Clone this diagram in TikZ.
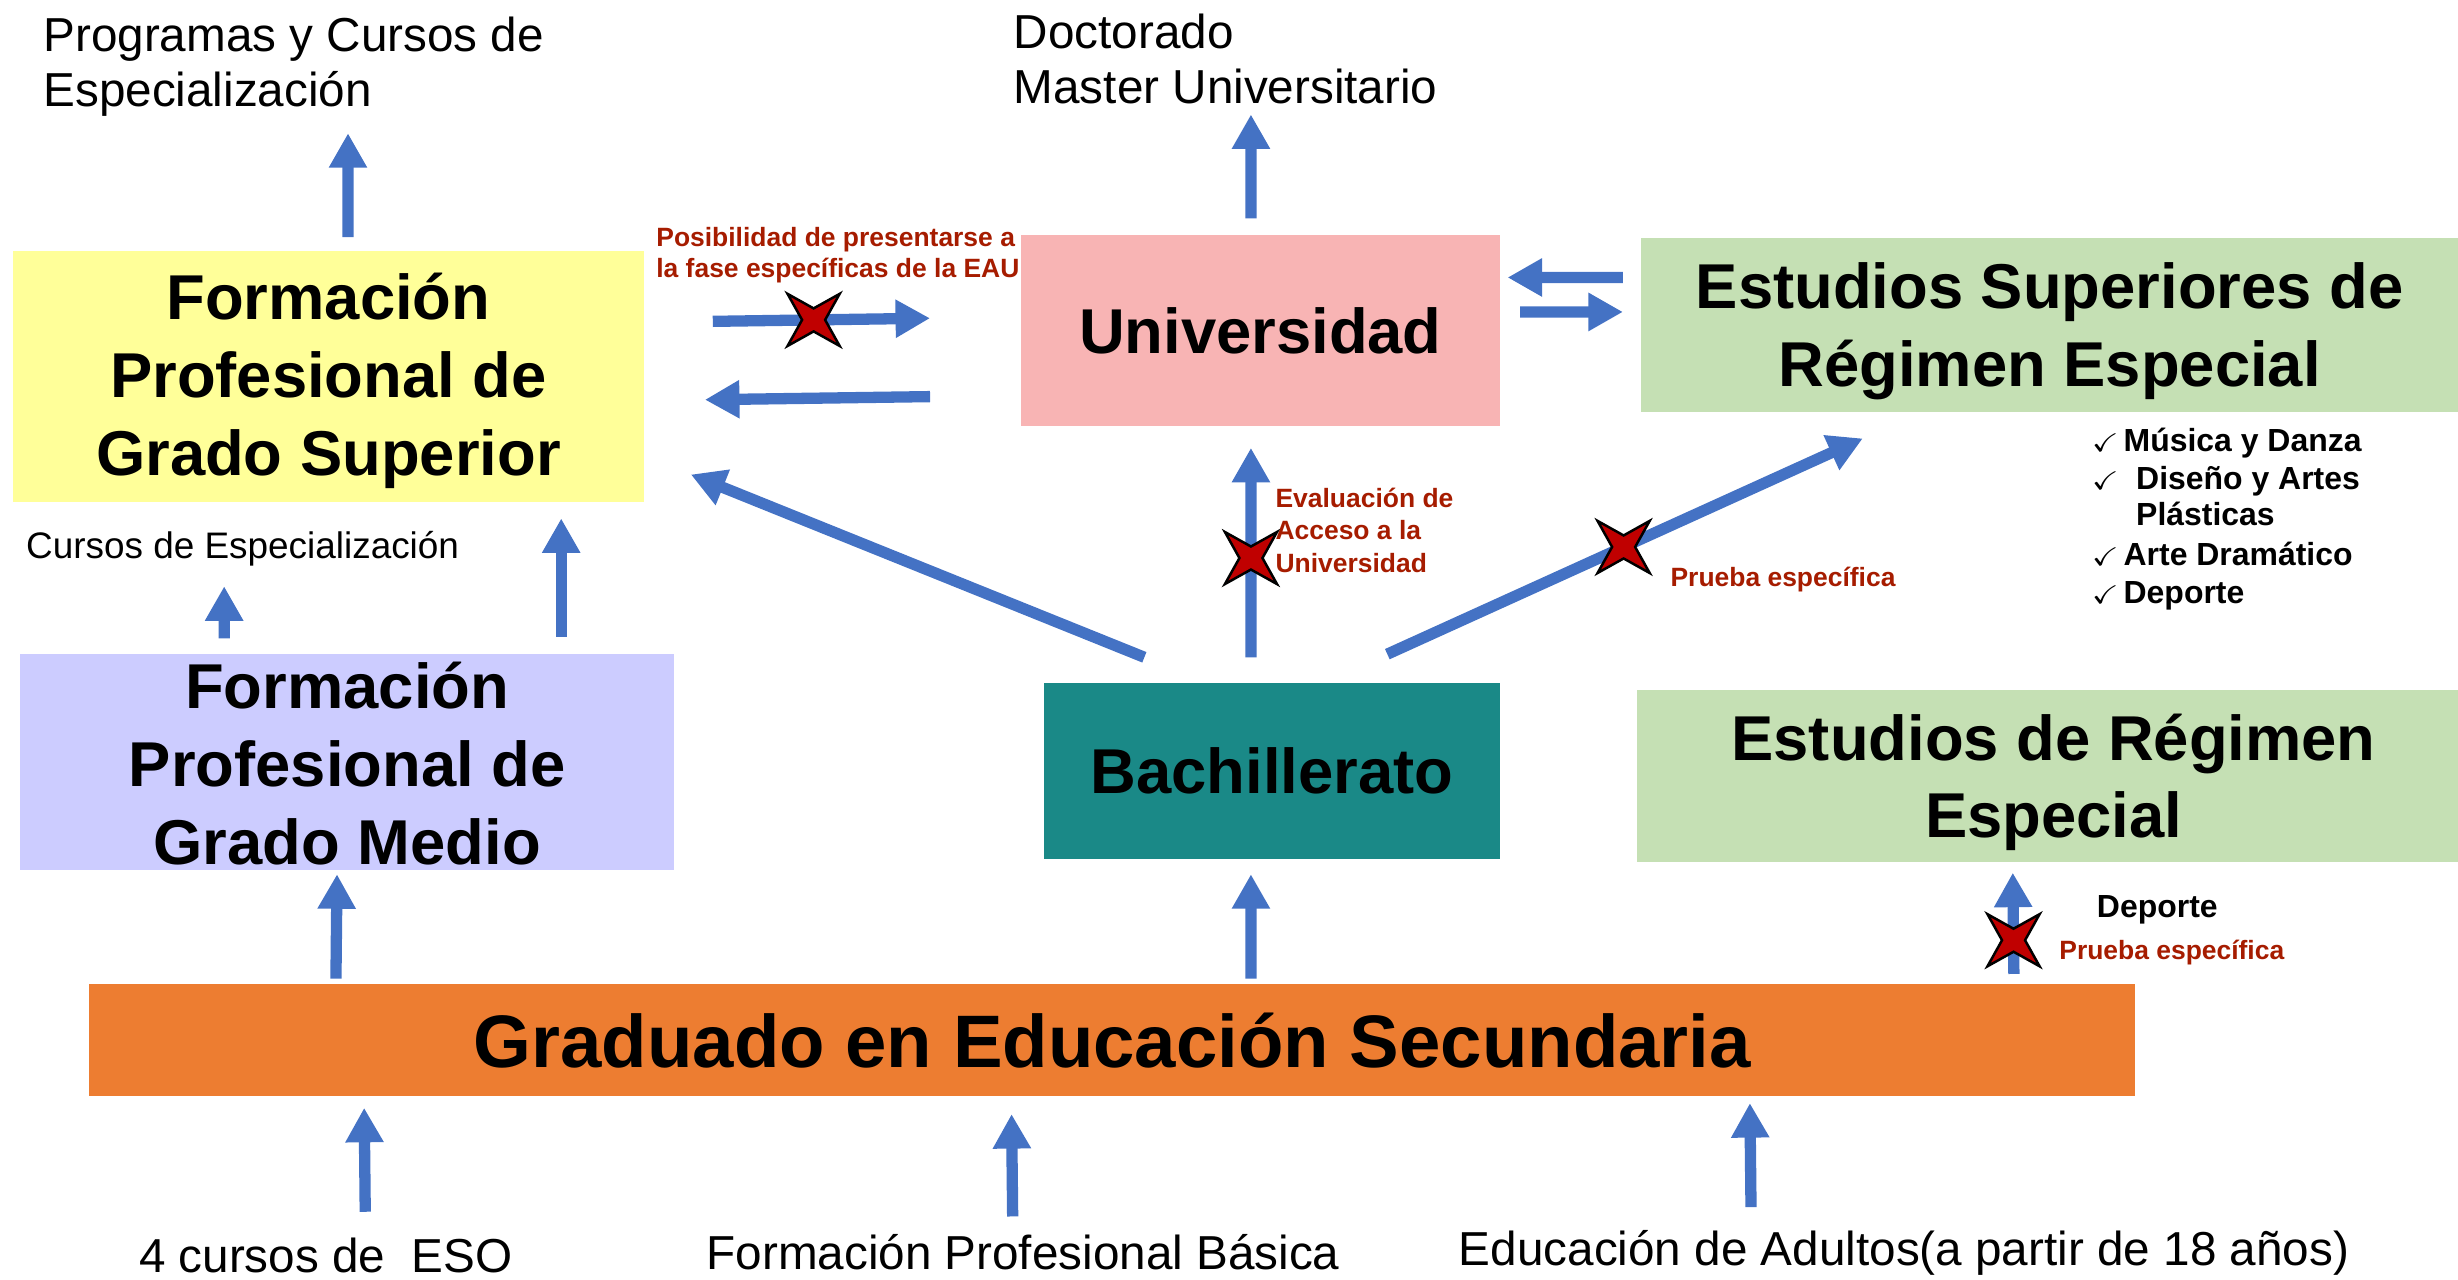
\documentclass[tikz,border=0pt]{standalone}
\usepackage{amssymb}
\usepackage{fontspec}
\setmainfont{Liberation Sans}
\usetikzlibrary{arrows.meta,shapes.geometric}
\definecolor{box_yellow}{RGB}{255,255,153}
\definecolor{box_pink}{RGB}{248,180,180}
\definecolor{box_green}{RGB}{197,224,180}
\definecolor{box_lilac}{RGB}{204,204,255}
\definecolor{box_teal}{RGB}{26,137,135}
\definecolor{box_orange}{RGB}{237,125,49}
\definecolor{arrow_blue}{RGB}{68,114,196}
\definecolor{text_red}{RGB}{166,28,0}
\definecolor{cross_red}{RGB}{192,0,0}
\newcommand{\chk}{\makebox[2.1mm][l]{\fontsize{4.6}{5}\selectfont$\checkmark$}}

\begin{document}
\begin{tikzpicture}[x=0.1mm,y=-0.1mm]
    \tikzstyle{caja}=[rectangle, inner sep=0pt, align=center, text=black, font=\fontsize{11.5}{14.1}\selectfont\bfseries]
    \tikzstyle{textocaja}=[inner sep=0pt, align=center, text=black, font=\fontsize{11.5}{14.1}\selectfont\bfseries]
    \tikzstyle{flecha}=[-{Triangle[width=2.3mm,length=2.2mm]}, draw=arrow_blue, line width=0.72mm]
    \tikzstyle{etiqueta}=[inner sep=0pt, anchor=base west, font=\fontsize{8.65}{10}\selectfont]
    \tikzstyle{nota}=[inner sep=0pt, anchor=base west, text=text_red, font=\fontsize{4.8}{5.8}\selectfont\bfseries]
    \tikzstyle{lista}=[inner sep=0pt, anchor=base west, font=\fontsize{5.8}{6.8}\selectfont\bfseries]
    \tikzstyle{cruz}=[star, star points=4, star point ratio=3.2, shape border rotate=45, draw=black, line width=0.45pt, fill=cross_red, minimum size=4.7mm, inner sep=0pt]

    \useasboundingbox (0,0) rectangle (1568,816);

    % cajas
    \node[caja, fill=box_yellow, minimum width=40.3mm, minimum height=16mm]   (fpgs) at (209.5,240)  {};
    \node[caja, fill=box_pink, minimum width=30.6mm, minimum height=12.2mm]   (univ) at (804,211)    {Universidad};
    \node[caja, fill=box_green, minimum width=52.1mm, minimum height=11.1mm]  (esre) at (1307.5,207.5) {};
    \node[caja, fill=box_lilac, minimum width=41.7mm, minimum height=13.8mm]  (fpgm) at (221.5,486)  {};
    \node[caja, fill=box_teal, minimum width=29.1mm, minimum height=11.2mm]   (bach) at (811.5,492)  {Bachillerato};
    \node[caja, fill=box_green, minimum width=52.4mm, minimum height=11mm]    (ere)  at (1306,495)   {};
    \node[caja, fill=box_orange, minimum width=130.5mm, minimum height=7.1mm, font=\fontsize{13.5}{16}\selectfont\bfseries] (ges) at (709.5,663.5) {Graduado en Educación Secundaria};

    \node[textocaja] (fpgs-t) at ([yshift=-0.3mm]fpgs.center) {Formación\\Profesional de\\Grado Superior};
    \node[textocaja] (esre-t) at ([yshift=-0.4mm]esre.center) {Estudios Superiores de\\Régimen Especial};
    \node[textocaja] (fpgm-t) at ([yshift=-0.1mm]fpgm.center) {Formación\\Profesional de\\Grado Medio};
    \node[textocaja] (ere-t)  at ([xshift=0.4mm,yshift=-0.4mm]ere.center) {Estudios de Régimen\\Especial};

    % textos
    \node[etiqueta] (prog1) at (27,33)  {Programas y Cursos de};
    \node[etiqueta] (prog2) at (27,68)  {Especialización};
    \node[etiqueta] (doct1) at (646,31) {Doctorado};
    \node[etiqueta] (doct2) at (646,66) {Master Universitario};
    \node[etiqueta, font=\fontsize{6.7}{8}\selectfont] (cursos) at (16,356) {Cursos de Especialización};
    \node[etiqueta] (eso)     at (88,812)  {4 cursos de \ ESO};
    \node[etiqueta] (fpb)     at (450,810) {Formación Profesional Básica};
    \node[etiqueta] (adultos) at (930,807) {Educación de Adultos(a partir de 18 años)};

    \node[nota] (posib1) at (418,157)  {Posibilidad de presentarse a};
    \node[nota] (posib2) at (418,177)  {la fase específicas de la EAU};
    \node[nota] (eval1)  at (813,324)  {Evaluación de};
    \node[nota] (eval2)  at (813,344)  {Acceso a la};
    \node[nota] (eval3)  at (813,365)  {Universidad};
    \node[nota] (prueba1) at (1065,374) {Prueba específica};
    \node[nota] (prueba2) at (1313,612) {Prueba específica};
    \node[lista] (deporte) at (1337,585) {Deporte};

    \node[lista] (chk1) at (1333,288) {\chk Música y Danza};
    \node[lista] (chk2) at (1333,312) {\chk\hspace{0.8mm}Diseño y Artes};
    \node[lista] (chk3) at (1362,335) {Plásticas};
    \node[lista] (chk4) at (1333,361) {\chk Arte Dramático};
    \node[lista] (chk5) at (1333,385) {\chk Deporte};

    % flechas
    \draw[flecha] ([xshift=1.25mm,yshift=0.8mm]fpgs.north) -- ([xshift=19.5mm,yshift=-1.7mm]prog2.base west);
    \draw[flecha] ([xshift=-0.6mm,yshift=1mm]univ.north) -- ([xshift=15.2mm,yshift=-0.7mm]doct2.base west);
    \draw[flecha] ([xshift=4.3mm,yshift=3.5mm]fpgs.east) -- node[cruz, pos=0.464] (x1) {} ([xshift=-5.7mm,yshift=0.8mm]univ.west);
    \draw[flecha] ([xshift=-5.7mm,yshift=-4.2mm]univ.west) -- ([xshift=3.8mm,yshift=-1.5mm]fpgs.east);
    \draw[flecha] ([xshift=-1.1mm,yshift=3.05mm]esre.west) -- ([xshift=0.4mm,yshift=3.4mm]univ.east);
    \draw[flecha] ([xshift=1.2mm,yshift=1.2mm]univ.east) -- ([xshift=-1.1mm,yshift=0.85mm]esre.west);
    \draw[flecha] ([xshift=-8.15mm,yshift=1.6mm]bach.north) -- ([xshift=2.9mm,yshift=1.8mm]fpgs.south east);
    \draw[flecha] ([xshift=-1.35mm,yshift=1.6mm]bach.north) -- node[cruz, pos=0.474] (x2) {} ([xshift=-0.6mm,yshift=-1.3mm]univ.south);
    \draw[flecha] ([xshift=7.35mm,yshift=1.8mm]bach.north) -- node[cruz, pos=0.497] (x3) {} ([xshift=14.2mm,yshift=-1.6mm]esre.south west);
    \draw[flecha] ([xshift=-7.85mm,yshift=0.9mm]fpgm.north) -- ([xshift=12.7mm,yshift=-1.8mm]cursos.base west);
    \draw[flecha] ([xshift=13.65mm,yshift=1mm]fpgm.north) -- ([xshift=14.85mm,yshift=-1mm]fpgs.south);
    \draw[flecha] ([xshift=15.8mm,yshift=0.3mm]ges.north west) -- ([xshift=-0.65mm,yshift=-0.2mm]fpgm.south);
    \draw[flecha] ([xshift=8.85mm,yshift=0.3mm]ges.north) -- ([xshift=-1.35mm,yshift=-0.9mm]bach.south);
    \draw[flecha] ([xshift=-7.8mm,yshift=0.6mm]ges.north east) -- node[cruz, pos=0.333] (x4) {} ([xshift=-2.2mm,yshift=-0.6mm]ere.south);
    \draw[flecha] ([xshift=14.5mm,yshift=3.9mm]eso.base west) -- ([xshift=17.6mm,yshift=-0.7mm]ges.south west);
    \draw[flecha] ([xshift=19.6mm,yshift=3.4mm]fpb.base west) -- ([xshift=58.9mm,yshift=-1.1mm]ges.south west);
    \draw[flecha] ([xshift=18.7mm,yshift=3.7mm]adultos.base west) -- ([xshift=106mm,yshift=-0.4mm]ges.south west);
\end{tikzpicture}
\end{document}
